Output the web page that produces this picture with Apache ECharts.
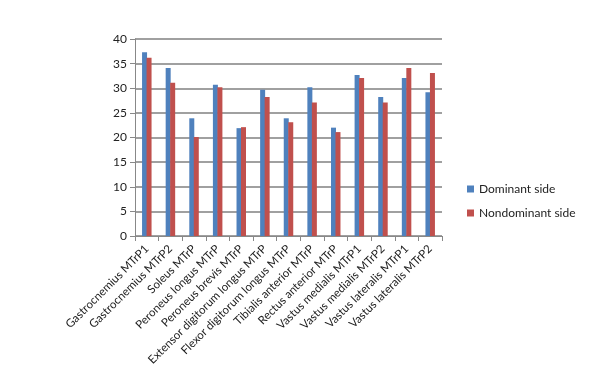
<!DOCTYPE html>
<html><head><meta charset="utf-8">
<script src="https://cdn.jsdelivr.net/npm/echarts@6/dist/echarts.min.js"></script>
<style>html,body{margin:0;padding:0;background:#fff}#c{width:600px;height:374px}</style>
</head><body><div id="c"></div>
<script>
const categories = ["Gastrocnemius MTrP1","Gastrocnemius MTrP2","Soleus MTrP","Peroneus longus MTrP","Peroneus brevis MTrP","Extensor digitorum longus MTrP","Flexor digitorum longus MTrP","Tibialis anterior MTrP","Rectus anterior MTrP","Vastus medialis MTrP1","Vastus medialis MTrP2","Vastus lateralis MTrP1","Vastus lateralis MTrP2"];
const dominant = [37.3,34.1,23.9,30.7,21.9,29.7,23.9,30.2,22.0,32.7,28.2,32.1,29.2];
const nondominant = [36.2,31.1,20.1,30.2,22.1,28.2,23.1,27.1,21.1,32.1,27.1,34.1,33.1];
const yTicks = {min:0,max:40,interval:5};
const chart = echarts.init(document.getElementById('c'));
chart.setOption({
  animation:false,
  textStyle:{fontFamily:'Lato, Open Sans, sans-serif'},
  grid:{left:135,right:158,top:39,bottom:138},
  legend:{orient:'vertical',left:462,top:178,itemWidth:7,itemHeight:7,itemGap:12,icon:'rect',
    textStyle:{fontSize:12,color:'#222'},data:['Dominant side','Nondominant side']},
  xAxis:{type:'category',data:categories,
    axisLine:{lineStyle:{color:'#888'}},
    axisTick:{show:true,lineStyle:{color:'#888'}},
    axisLabel:{rotate:45,fontSize:11.5,color:'#222',interval:0,margin:11}},
  yAxis:{type:'value',min:yTicks.min,max:yTicks.max,interval:yTicks.interval,
    axisLine:{show:true,lineStyle:{color:'#888'}},
    axisTick:{show:true,lineStyle:{color:'#888'}},
    axisLabel:{fontSize:12,color:'#222',margin:8},
    splitLine:{lineStyle:{color:'#808080',width:1.5}}},
  series:[
    {name:'Dominant side',type:'bar',data:dominant,barWidth:5,barGap:'-10%',itemStyle:{color:'#4F81BD'}},
    {name:'Nondominant side',type:'bar',data:nondominant,barWidth:5,itemStyle:{color:'#C0504D'}}
  ]
});
</script></body></html>
